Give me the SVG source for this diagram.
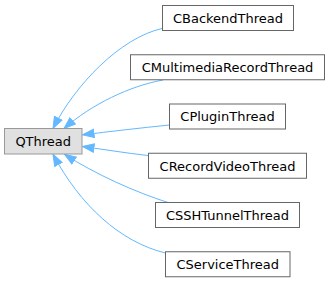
<svg xmlns="http://www.w3.org/2000/svg" width="331" height="283" viewBox="0 0 331 283">
<style>
.node rect{fill:#ffffff;stroke:#666666;stroke-width:1}
#QThread rect{fill:#e0e0e0;stroke:#999999}
.node text{font-family:"DejaVu Sans",sans-serif;font-size:13px;fill:#000000;text-anchor:middle}
.edge{fill:none;stroke:#63b8ff;stroke-width:1;marker-end:url(#arr)}
</style>
<defs>
<marker id="arr" markerUnits="userSpaceOnUse" markerWidth="13" markerHeight="10" refX="12" refY="5" orient="auto" viewBox="0 0 13 10">
<path d="M0.5,0.8 L12,5 L0.5,9.2 Z" fill="#63b8ff" stroke="#63b8ff" stroke-width="1"/>
</marker>
</defs>
<g id="connectors">
<path class="edge" d="M162,28.5 C120,38 75,85 53,128.5"/>
<path class="edge" d="M163,80 C130,86 92,104 64,128.5"/>
<path class="edge" d="M169.5,125 C140,128 110,131.5 82.5,134.8"/>
<path class="edge" d="M148,155.5 C125,153 105,149.5 82.5,146.5"/>
<path class="edge" d="M168,202.5 C135,192 95,174 64.5,154.3"/>
<path class="edge" d="M165.5,253 C120,242 80,205 53,154.3"/>
</g>
<g id="QThread" class="node"><rect x="4.5" y="128.5" width="77.5" height="25.5"/><text x="43.25" y="146">QThread</text></g>
<g id="CBackendThread" class="node"><rect x="162.5" y="5.5" width="131" height="25"/><text x="228" y="22.7">CBackendThread</text></g>
<g id="CMultimediaRecordThread" class="node"><rect x="130.5" y="54.75" width="194" height="25"/><text x="227.5" y="72">CMultimediaRecordThread</text></g>
<g id="CPluginThread" class="node"><rect x="169.5" y="104" width="116" height="25"/><text x="227.5" y="121.2">CPluginThread</text></g>
<g id="CRecordVideoThread" class="node"><rect x="148.5" y="153.25" width="158" height="25"/><text x="227.5" y="170.5">CRecordVideoThread</text></g>
<g id="CSSHTunnelThread" class="node"><rect x="155.5" y="202.5" width="144" height="25"/><text x="227.5" y="219.7">CSSHTunnelThread</text></g>
<g id="CServiceThread" class="node"><rect x="165.5" y="251.75" width="124.5" height="25"/><text x="227.75" y="269">CServiceThread</text></g>
</svg>
